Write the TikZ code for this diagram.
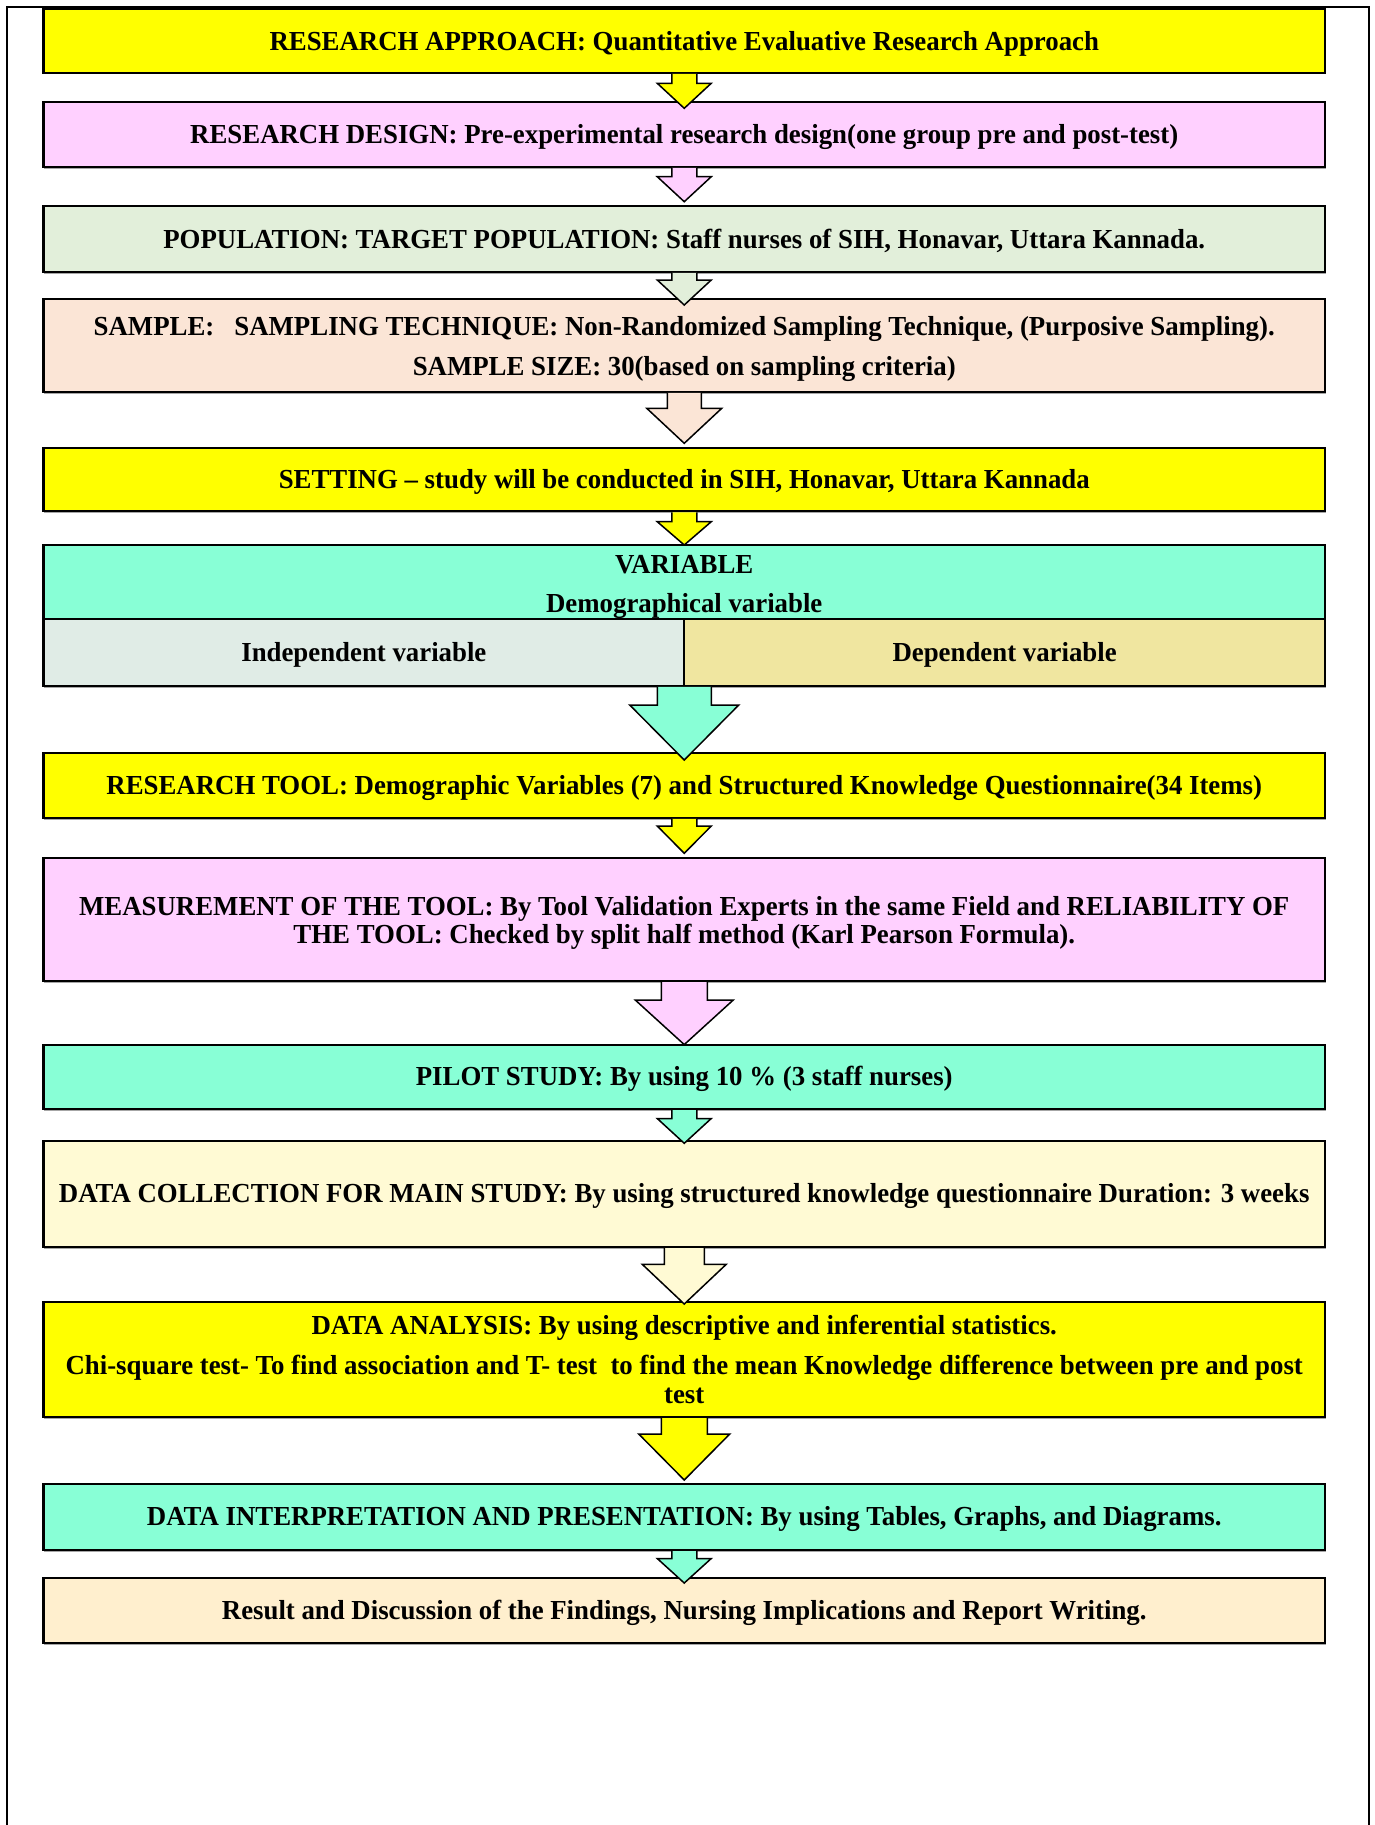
\documentclass[tikz,border=0pt]{standalone}
\usepackage{fontspec}
\setmainfont{Liberation Serif}[FakeStretch=0.975]
\usetikzlibrary{calc,shadows}
\definecolor{cyel}{HTML}{FFFF00}
\definecolor{cpink}{HTML}{FFD0FF}
\definecolor{cgreen}{HTML}{E2EFDA}
\definecolor{cpeach}{HTML}{FBE5D6}
\definecolor{caqua}{HTML}{88FFD6}
\definecolor{cind}{HTML}{E0ECE6}
\definecolor{cdep}{HTML}{F0E6A0}
\definecolor{clemon}{HTML}{FFFAD4}
\definecolor{cres}{HTML}{FFEFCE}
\newcommand\lift[1]{\rule{0pt}{#1pt}}
\tikzset{
  box/.style={draw=black, line width=2.2pt, minimum width=1281.5pt, inner sep=0pt, outer sep=0pt,
    align=center, font=\fontsize{27.5}{28.5}\selectfont\bfseries,
    execute at begin node={\rule{0pt}{24pt}},
    drop shadow={shadow xshift=0.8pt, shadow yshift=-1.8pt, fill=black, opacity=0.35}},
  half/.style={box, minimum width=640.75pt},
  blockarr/.style={draw=black, line width=1.5pt, line join=miter},
}
% #1 start coordinate, #2 target node, #3 shaft length, #4 shaft half width, #5 head half width, #6 tip overlap, #7 colour
\newcommand\blk[7]{%
  \filldraw[blockarr, fill=#7] let \p1=#1, \p2=(#2.north) in
    (\x1-#4pt,\y1-1.1pt) -- (\x1-#4pt,\y1-#3pt) -- (\x1-#5pt,\y1-#3pt) -- (\x1,\y2-#6pt)
    -- (\x1+#5pt,\y1-#3pt) -- (\x1+#4pt,\y1-#3pt) -- (\x1+#4pt,\y1-1.1pt);}
\begin{document}
\begin{tikzpicture}[x=1pt,y=-1pt]
\useasboundingbox (0,0) rectangle (1375,1825);
\fill[white] (0,0) rectangle (1375,1825);
\draw[line width=2pt] (7,1825) -- (7,7) -- (1368.5,7) -- (1368.5,1825);

\node[box, fill=cyel, minimum height=63.4pt] (b1) at (684.25,41)
  {RESEARCH APPROACH: Quantitative Evaluative Research Approach};
\node[box, fill=cpink, minimum height=65pt] (b2) at (684.25,134.2)
  {RESEARCH DESIGN: Pre-experimental research design(one group pre and post-test)};
\node[box, fill=cgreen, minimum height=66pt] (b3) at (684.25,238.7)
  {POPULATION: TARGET POPULATION: Staff nurses of SIH, Honavar, Uttara Kannada.};
\node[box, fill=cpeach, minimum height=92.4pt] (b4) at (684.25,345.5)
  {\lift{27}SAMPLE:\ \ \ SAMPLING TECHNIQUE: Non-Randomized Sampling Technique, (Purposive Sampling).\\[11.5pt]
   SAMPLE SIZE: 30(based on sampling criteria)};
\node[box, fill=cyel, minimum height=63.6pt] (b5) at (684.25,479.5)
  {SETTING -- study will be conducted in SIH, Honavar, Uttara Kannada};
\node[box, fill=caqua, minimum height=74.3pt] (var) at (684.25,582.15)
  {\lift{28}VARIABLE\\[10pt]Demographical variable};
\node[half, fill=cind, minimum height=66.4pt] (ind) at (363.875,652.5) {Independent variable};
\node[half, fill=cdep, minimum height=66.4pt] (dep) at (1004.625,652.5) {Dependent variable};
\node[box, fill=cyel, minimum height=64.4pt] (b7) at (684.25,785.5)
  {RESEARCH TOOL: Demographic Variables (7) and Structured Knowledge Questionnaire(34 Items)};
\node[box, fill=cpink, minimum height=122.7pt] (b8) at (684.25,919.65)
  {\lift{26}MEASUREMENT OF THE TOOL: By Tool Validation Experts in the same Field and RELIABILITY OF\\
   THE TOOL: Checked by split half method (Karl Pearson Formula).};
\node[box, fill=caqua, minimum height=64.4pt] (b9) at (684.25,1076.8)
  {PILOT STUDY: By using 10 \% (3 staff nurses)};
\node[box, fill=clemon, minimum height=106pt] (b10) at (684.25,1194)
  {DATA COLLECTION FOR MAIN STUDY: By using structured knowledge questionnaire Duration: 3 weeks};
\node[box, fill=cyel, minimum height=115pt] (b11) at (684.25,1359.5)
  {DATA ANALYSIS: By using descriptive and inferential statistics.\\[11.5pt]
   Chi-square test- To find association and T- test\ \ to find the mean Knowledge difference between pre and post\\
   test};
\node[box, fill=caqua, minimum height=66pt] (b12) at (684.25,1517)
  {DATA INTERPRETATION AND PRESENTATION: By using Tables, Graphs, and Diagrams.};
\node[box, fill=cres, minimum height=65.3pt] (b13) at (684.25,1610.35)
  {Result and Discussion of the Findings, Nursing Implications and Report Writing.};

\blk{(b1.south)}{b2}{10.6}{12.5}{27}{6.6}{cyel}
\blk{(b2.south)}{b3}{10}{12.5}{27}{-4}{cpink}
\blk{(b3.south)}{b4}{8.3}{12.5}{27}{5.7}{cgreen}
\blk{(b4.south)}{b5}{16.6}{17}{37.5}{-4.4}{cpeach}
\blk{(b5.south)}{var}{10.4}{12.5}{27}{0}{cyel}
\blk{(ind.south east)}{b7}{19.3}{27}{54.5}{6.7}{caqua}
\blk{(b7.south)}{b8}{8.3}{12.5}{27}{-5}{cyel}
\blk{(b8.south)}{b9}{19}{23}{49}{0}{cpink}
\blk{(b9.south)}{b10}{9.5}{12.5}{27}{2.3}{caqua}
\blk{(b10.south)}{b11}{17.3}{20}{42}{2}{clemon}
\blk{(b11.south)}{b12}{17}{23}{45.5}{-4}{cyel}
\blk{(b12.south)}{b13}{8.5}{12.5}{27}{5.3}{caqua}
\end{tikzpicture}
\end{document}
